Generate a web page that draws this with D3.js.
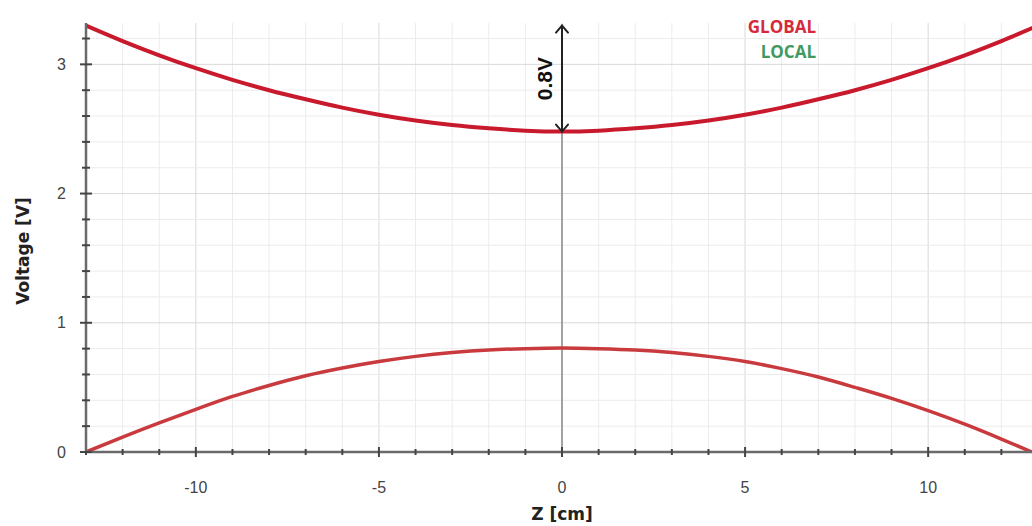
<!DOCTYPE html>
<html>
<head>
<meta charset="utf-8">
<script src="https://cdn.jsdelivr.net/npm/d3@7"></script>
<style>
  html, body { margin: 0; padding: 0; background: #fff; }
  svg { display: block; }
</style>
</head>
<body>
<div id="chart"></div>
<script>
// Z positions [cm] and voltages [V]
const zGlobal = [-13, -12, -11, -10, -9, -8, -7, -6, -5, -4, -3, -2, -1, 0, 1, 2, 3, 4, 5, 6, 7, 8, 9, 10, 11, 12, 13];
const vGlobal = [3.30, 3.18, 3.07, 2.97, 2.88, 2.80, 2.73, 2.665, 2.61, 2.565, 2.53, 2.505, 2.487, 2.48, 2.487, 2.505, 2.53, 2.565, 2.61, 2.665, 2.73, 2.80, 2.88, 2.97, 3.07, 3.18, 3.30];

const zLocal = [-13, -12, -11, -10, -9, -8, -7, -6, -5, -4, -3, -2, -1, 0, 1, 2, 3, 4, 5, 6, 7, 8, 9, 10, 11, 12, 13];
const vLocal = [0, 0.115, 0.225, 0.33, 0.43, 0.515, 0.59, 0.65, 0.70, 0.74, 0.77, 0.79, 0.80, 0.805, 0.80, 0.79, 0.77, 0.74, 0.70, 0.645, 0.58, 0.50, 0.415, 0.32, 0.215, 0.10, -0.02];

const xMajorTicks = [-10, -5, 0, 5, 10];
const yMajorTicks = [0, 1, 2, 3];
const gap = { z: 0, from: 2.48, to: 3.30, label: "0.8V" };
const legendItems = [
  { name: "GLOBAL", color: "#d42a3c" },
  { name: "LOCAL", color: "#3f9a62" }
];

const W = 1032, H = 526;

const svg = d3.select("#chart")
  .append("svg")
  .attr("width", W)
  .attr("height", H);

const x = d3.scaleLinear().domain([-13, 13]).range([86, 1038]);
const y = d3.scaleLinear().domain([0, 3.32]).range([452, 23]);

const plotTop = y.range()[1], plotBottom = y.range()[0];
const plotLeft = x.range()[0], plotRight = W;

// grid
const grid = svg.append("g");
const xMinor = d3.range(-13, 14, 1);
const yMinor = d3.range(0, 3.31, 0.2).map(v => +v.toFixed(1));

grid.selectAll(".gx")
  .data(xMinor)
  .enter()
  .append("line")
  .attr("x1", d => x(d)).attr("x2", d => x(d))
  .attr("y1", plotTop).attr("y2", plotBottom)
  .attr("stroke", d => d % 5 === 0 ? "#d9d9d9" : "#ececec")
  .attr("stroke-width", 1);

grid.selectAll(".gy")
  .data(yMinor)
  .enter()
  .append("line")
  .attr("x1", plotLeft).attr("x2", plotRight)
  .attr("y1", d => y(d)).attr("y2", d => y(d))
  .attr("stroke", d => Number.isInteger(d) ? "#d9d9d9" : "#ececec")
  .attr("stroke-width", 1);

// vertical guide at z = 0
svg.append("line")
  .attr("x1", x(0)).attr("x2", x(0))
  .attr("y1", y(gap.from)).attr("y2", plotBottom)
  .attr("stroke", "#8a8a8a")
  .attr("stroke-width", 1.5);

// curves (clipped to the axis area)
svg.append("clipPath").attr("id", "plot-clip")
  .append("rect")
  .attr("x", plotLeft).attr("y", 0)
  .attr("width", plotRight - plotLeft).attr("height", plotBottom + 1);

const line = d3.line()
  .x(d => x(d[0]))
  .y(d => y(d[1]))
  .curve(d3.curveNatural);

const curves = svg.append("g").attr("clip-path", "url(#plot-clip)");

curves.append("path")
  .datum(zLocal.map((z, i) => [z, vLocal[i]]))
  .attr("fill", "none")
  .attr("stroke", "#c93a3e")
  .attr("stroke-width", 3.5)
  .attr("d", line);

curves.append("path")
  .datum(zGlobal.map((z, i) => [z, vGlobal[i]]))
  .attr("fill", "none")
  .attr("stroke", "#c81a2c")
  .attr("stroke-width", 4)
  .attr("d", line);

// axes
const xAxis = svg.append("g").attr("transform", `translate(0,${plotBottom})`);
xAxis.append("line")
  .attr("x1", plotLeft).attr("x2", plotRight)
  .attr("stroke", "#6a6a6a").attr("stroke-width", 2.5);
xAxis.selectAll(".t")
  .data(xMinor)
  .enter()
  .append("line")
  .attr("x1", d => x(d)).attr("x2", d => x(d))
  .attr("y1", d => d % 5 === 0 ? -5 : -3)
  .attr("y2", d => d % 5 === 0 ? 5 : 3)
  .attr("stroke", "#444").attr("stroke-width", 2);
xAxis.selectAll(".l")
  .data(xMajorTicks)
  .enter()
  .append("text")
  .attr("x", d => x(d))
  .attr("y", 41)
  .attr("text-anchor", "middle")
  .attr("font-family", "Liberation Sans, Arial, sans-serif")
  .attr("font-size", 16)
  .attr("fill", "#444")
  .text(d => d);

const yAxis = svg.append("g").attr("transform", `translate(${plotLeft},0)`);
yAxis.append("line")
  .attr("y1", plotTop).attr("y2", plotBottom)
  .attr("stroke", "#6a6a6a").attr("stroke-width", 2.5);
yAxis.selectAll(".t")
  .data(yMinor)
  .enter()
  .append("line")
  .attr("y1", d => y(d)).attr("y2", d => y(d))
  .attr("x1", d => Number.isInteger(d) ? -6 : -4)
  .attr("x2", d => Number.isInteger(d) ? 6 : 4)
  .attr("stroke", "#444").attr("stroke-width", 2);
yAxis.selectAll(".l")
  .data(yMajorTicks)
  .enter()
  .append("text")
  .attr("x", -20)
  .attr("y", d => y(d))
  .attr("dy", "0.35em")
  .attr("text-anchor", "end")
  .attr("font-family", "Liberation Sans, Arial, sans-serif")
  .attr("font-size", 16)
  .attr("fill", "#444")
  .text(d => d);

// axis titles
svg.append("text")
  .attr("x", x(0))
  .attr("y", 520)
  .attr("text-anchor", "middle")
  .attr("font-family", "DejaVu Sans, sans-serif")
  .attr("font-weight", "bold")
  .attr("font-size", 17)
  .attr("fill", "#222")
  .text("Z [cm]");

svg.append("text")
  .attr("transform", "rotate(-90)")
  .attr("x", -251)
  .attr("y", 29)
  .attr("text-anchor", "middle")
  .attr("font-family", "DejaVu Sans, sans-serif")
  .attr("font-weight", "bold")
  .attr("font-size", 17)
  .attr("fill", "#222")
  .text("Voltage [V]");

// 0.8V gap arrow
const ax = x(gap.z), ay1 = y(gap.to), ay2 = y(gap.from);
const arrow = svg.append("g")
  .attr("stroke", "#222")
  .attr("stroke-width", 2)
  .attr("fill", "none")
  .attr("stroke-linecap", "round");
arrow.append("line").attr("x1", ax).attr("x2", ax).attr("y1", ay1).attr("y2", ay2);
arrow.append("path").attr("d", `M${ax - 6},${ay1 + 7}L${ax},${ay1}L${ax + 6},${ay1 + 7}`);
arrow.append("path").attr("d", `M${ax - 6},${ay2 - 7}L${ax},${ay2}L${ax + 6},${ay2 - 7}`);

svg.append("text")
  .attr("transform", `translate(${ax - 10},${(ay1 + ay2) / 2}) rotate(-90)`)
  .attr("text-anchor", "middle")
  .attr("font-family", "Liberation Sans, Arial, sans-serif")
  .attr("font-weight", "bold")
  .attr("font-size", 21)
  .attr("fill", "#111")
  .text(gap.label);

// legend
svg.selectAll(".legend")
  .data(legendItems)
  .enter()
  .append("text")
  .attr("x", 816)
  .attr("y", (d, i) => 33 + i * 25)
  .attr("text-anchor", "end")
  .attr("font-family", "Open Sans, sans-serif")
  .attr("font-weight", "bold")
  .attr("font-size", 17)
  .attr("fill", d => d.color)
  .text(d => d.name);
</script>
</body>
</html>
